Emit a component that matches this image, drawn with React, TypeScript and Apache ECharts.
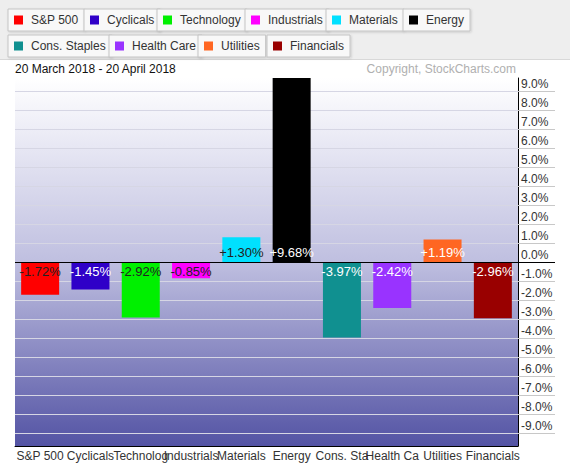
import React, { useEffect, useRef } from "react";
import * as echarts from "echarts";

const categories = ["S&P 500", "Cyclicals", "Technology", "Industrials", "Materials", "Energy", "Cons. Staples", "Health Care", "Utilities", "Financials"];
const values = [-1.72, -1.45, -2.92, -0.85, 1.3, 9.68, -3.97, -2.42, 1.19, -2.96];
const colors = ["#ff0000", "#2f00c8", "#00f000", "#ff00ff", "#00e0ff", "#000000", "#109090", "#9933ff", "#ff6622", "#990000"];
const labelColors = ["#222222", "#ffffff", "#222222", "#222222", "#222222", "#ffffff", "#ffffff", "#ffffff", "#ffffff", "#ffffff"];
const tickValues = [-9, -8, -7, -6, -5, -4, -3, -2, -1, 0, 1, 2, 3, 4, 5, 6, 7, 8, 9];
const dateRange = "20 March 2018 - 20 April 2018";
const copyright = "Copyright, StockCharts.com";

// legend box positions (layout only)
const legendPos = [
  [8, 9], [84, 9], [157, 9], [245, 9], [326, 9], [403, 9],
  [8, 35], [109, 35], [198, 35], [267, 35],
];

const FONT = "'Liberation Sans', Arial, sans-serif";

export default function App() {
  const ref = useRef<HTMLDivElement>(null);
  useEffect(() => {
    document.body.style.margin = "0";
    const chart = echarts.init(ref.current!, null, { renderer: "svg" });
    const ymax = Math.max(...values.map((v) => Math.abs(v)));
    const series = categories.map((name, i) => ({
      name,
      type: "bar",
      yAxisIndex: 0,
      barWidth: 38,
      barGap: "-100%",
      itemStyle: { color: colors[i] },
      label: {
        show: true,
        position: values[i] < 0 ? "insideTop" : "insideBottom",
        distance: 3,
        color: labelColors[i],
        fontSize: 13,
        fontFamily: FONT,
        formatter: (p: any) => (p.value > 0 ? "+" : "") + Number(p.value).toFixed(2) + "%",
      },
      data: values.map((v, j) => (j === i ? v : "-")),
      markLine:
        i === 0
          ? {
              silent: true,
              symbol: "none",
              label: { show: false },
              lineStyle: { color: "#000", width: 1, type: "solid" },
              data: [{ yAxis: 0 }],
            }
          : undefined,
    }));
    const legends = categories.map((name, i) => ({
      data: [name],
      left: legendPos[i][0],
      top: legendPos[i][1],
      padding: [5, 6, 5, 6],
      itemWidth: 9,
      itemHeight: 9,
      icon: "rect",
      backgroundColor: "#f8f8f8",
      borderColor: "#c4c4c4",
      borderWidth: 1,
      borderRadius: 0,
      shadowColor: "rgba(0,0,0,0.15)",
      shadowBlur: 2,
      shadowOffsetX: 1,
      shadowOffsetY: 1,
      selectedMode: false,
      textStyle: { fontSize: 12, color: "#333", fontFamily: FONT, padding: [0, 0, 0, 3] },
    }));
    chart.setOption({
      animation: false,
      backgroundColor: "#ffffff",
      textStyle: { fontFamily: FONT },
      legend: legends,
      graphic: [
        { type: "rect", z: -10, shape: { x: 0, y: 0, width: 570, height: 59 }, style: { fill: "#eeeeee" } },
        { type: "line", z: -9, shape: { x1: 0, y1: 59.5, x2: 570, y2: 59.5 }, style: { stroke: "#d8d8d8", lineWidth: 1 } },
        { type: "text", left: 15, top: 63, style: { text: dateRange, fontSize: 12, fill: "#111", fontFamily: FONT } },
        { type: "text", right: 54, top: 63, style: { text: copyright, fontSize: 12, fill: "#b0b0b0", fontFamily: FONT } },
      ],
      grid: {
        left: 15,
        right: 52,
        top: 78,
        bottom: 20,
        show: true,
        borderWidth: 0,
        backgroundColor: new echarts.graphic.LinearGradient(0, 0, 0, 1, [
          { offset: 0, color: "#ffffff" },
          { offset: 0.5, color: "#bfbfe0" },
          { offset: 1, color: "#5353a4" },
        ]),
      },
      xAxis: {
        type: "category",
        data: categories,
        axisLine: { show: true, onZero: false, lineStyle: { color: "#000", width: 1 } },
        axisTick: { show: false },
        axisLabel: {
          interval: 0,
          fontSize: 12,
          color: "#333",
          margin: 4,
          width: 56,
          overflow: "truncate",
          ellipsis: "",
          fontFamily: FONT,
        },
        splitLine: { show: false },
      },
      yAxis: [
        {
          type: "value",
          position: "right",
          min: -ymax,
          max: ymax,
          axisLine: { show: true, lineStyle: { color: "#000", width: 1 } },
          axisTick: { show: true, inside: false, length: 37, customValues: tickValues, lineStyle: { color: "#c8c8c8" } },
          axisLabel: {
            show: true,
            customValues: tickValues,
            formatter: (v: number) => v.toFixed(1) + "%",
            verticalAlign: "bottom",
            margin: 3,
            fontSize: 12,
            color: "#333",
            fontFamily: FONT,
            padding: [0, 0, 1, 0],
          },
          splitLine: { show: true, lineStyle: { color: "#d6d6e4", width: 1 } },
        },
        {
          type: "value",
          position: "right",
          min: -ymax,
          max: ymax,
          axisLine: { show: false },
          axisTick: { show: true, inside: false, length: 37, customValues: [0], lineStyle: { color: "#000" } },
          axisLabel: { show: false },
          splitLine: { show: false },
        },
      ],
      series,
    });
    return () => chart.dispose();
  }, []);
  return <div ref={ref} style={{ width: 570, height: 466 }} />;
}
